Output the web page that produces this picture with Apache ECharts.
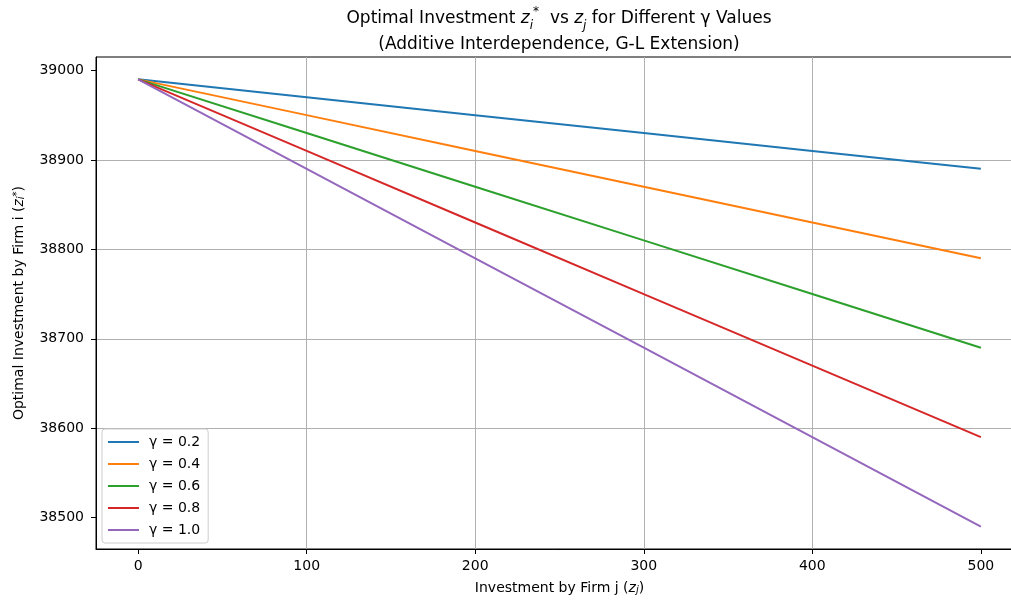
<!DOCTYPE html>
<html>
<head>
<meta charset="utf-8">
<script src="https://cdn.jsdelivr.net/npm/echarts@6/dist/echarts.min.js"></script>
<style>
  html, body { margin: 0; padding: 0; background: #fff; }
  #main { width: 1011px; height: 601px; }
</style>
</head>
<body>
<div id="main"></div>
<script>
// values
var zj = [0, 100, 200, 300, 400, 500]
var gammaNames = ['γ = 0.2', 'γ = 0.4', 'γ = 0.6', 'γ = 0.8', 'γ = 1.0']
var g02 = [38990, 38970, 38950, 38930, 38910, 38890]
var g04 = [38990, 38950, 38910, 38870, 38830, 38790]
var g06 = [38990, 38930, 38870, 38810, 38750, 38690]
var g08 = [38990, 38910, 38830, 38750, 38670, 38590]
var g10 = [38990, 38890, 38790, 38690, 38590, 38490]
var xTicks = [0, 100, 200, 300, 400, 500]
var yTicks = [38500, 38600, 38700, 38800, 38900, 39000]

var colors = ['#1f77b4', '#ff7f0e', '#2ca02c', '#d62728', '#9467bd']
var font = 'DejaVu Sans'

// italic z with sub/superscripts, used in title and axis names
var mathRich = {
  m: { fontFamily: font, fontStyle: 'italic', fontSize: 17, color: '#000' },
  s: { fontFamily: font, fontStyle: 'italic', fontSize: 12, color: '#000', verticalAlign: 'bottom', lineHeight: 13 },
  p: { fontFamily: font, fontSize: 12, color: '#000', verticalAlign: 'top', lineHeight: 13 }
}
var smallRich = {
  m: { fontFamily: font, fontStyle: 'italic', fontSize: 14, color: '#000' },
  s: { fontFamily: font, fontStyle: 'italic', fontSize: 10, color: '#000', verticalAlign: 'bottom', lineHeight: 11 },
  p: { fontFamily: font, fontSize: 10, color: '#000', verticalAlign: 'top', lineHeight: 11 }
}

var allData = [g02, g04, g06, g08, g10]
var series = []
for (var k = 0; k < allData.length; k++) {
  var pts = []
  for (var i = 0; i < zj.length; i++) {
    pts.push([zj[i], allData[k][i]])
  }
  series.push({
    name: gammaNames[k],
    type: 'line',
    data: pts,
    symbol: 'none',
    lineStyle: { width: 2, color: colors[k] },
    itemStyle: { color: colors[k] }
  })
}

function plain(v) {
  return String(v)
}

var myChart = echarts.init(document.getElementById('main'))
var option = {
  animation: false,
  textStyle: { fontFamily: font },
  title: {
    text: 'Optimal Investment {m|z}{s|i}{p|*}  vs {m|z}{s|j} for Different γ Values\n(Additive Interdependence, G-L Extension)',
    left: 559,
    top: 6,
    padding: 0,
    textAlign: 'center',
    textStyle: {
      fontFamily: font,
      fontSize: 17,
      fontWeight: 'normal',
      color: '#000',
      lineHeight: 26,
      rich: mathRich
    }
  },
  grid: {
    left: 96,
    top: 57,
    width: 927,
    height: 492,
    show: true,
    borderColor: '#000',
    borderWidth: 1,
    containLabel: false,
    outerBoundsMode: 'none'
  },
  legend: {
    orient: 'vertical',
    left: 102,
    top: 429,
    padding: [6, 8, 6, 6],
    itemGap: 8,
    itemWidth: 31,
    itemHeight: 2,
    icon: 'rect',
    backgroundColor: 'rgba(255,255,255,0.8)',
    borderColor: '#cccccc',
    borderWidth: 1,
    borderRadius: 3,
    textStyle: { fontFamily: font, fontSize: 14, color: '#000', padding: [0, 0, 0, 5] },
    data: gammaNames
  },
  xAxis: {
    type: 'value',
    min: -25,
    max: 525,
    name: 'Investment by Firm j ({m|z}{s|j})',
    nameLocation: 'middle',
    nameGap: 32,
    nameTextStyle: { fontFamily: font, fontSize: 14, color: '#000', rich: smallRich },
    axisLine: { show: true, onZero: false, lineStyle: { color: '#000', width: 1 } },
    axisTick: { show: true, length: 5, customValues: xTicks, lineStyle: { color: '#000', width: 1 } },
    axisLabel: { customValues: xTicks, formatter: plain, margin: 10, fontFamily: font, fontSize: 14, color: '#000' },
    splitLine: { show: true, showMinLine: false, showMaxLine: false, lineStyle: { color: '#b0b0b0', width: 1 } }
  },
  yAxis: {
    type: 'value',
    min: 38465,
    max: 39015,
    name: 'Optimal Investment by Firm i ({m|z}{s|i}{p|*})',
    nameLocation: 'middle',
    nameGap: 70,
    nameTextStyle: { fontFamily: font, fontSize: 14, color: '#000', rich: smallRich },
    axisLine: { show: true, onZero: false, lineStyle: { color: '#000', width: 1 } },
    axisTick: { show: true, length: 5, customValues: yTicks, lineStyle: { color: '#000', width: 1 } },
    axisLabel: { customValues: yTicks, formatter: plain, margin: 12, fontFamily: font, fontSize: 14, color: '#000' },
    splitLine: { show: true, showMinLine: false, showMaxLine: false, lineStyle: { color: '#b0b0b0', width: 1 } }
  },
  series: series
}
myChart.setOption(option)
</script>
</body>
</html>
